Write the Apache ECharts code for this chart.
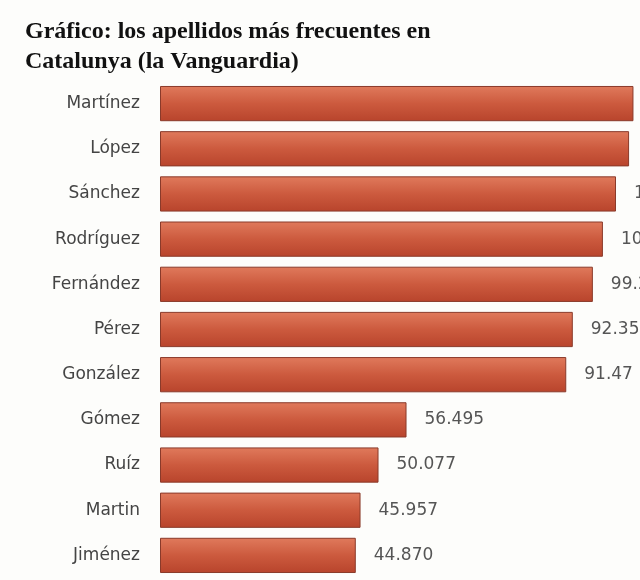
<!DOCTYPE html>
<html><head><meta charset="utf-8">
<script src="https://cdn.jsdelivr.net/npm/echarts@6/dist/echarts.min.js"></script>
<style>html,body{margin:0;padding:0;background:#fff}#c{width:640px;height:580px}</style>
</head><body><div id="c"></div>
<script>
const categories = ["Martínez","López","Sánchez","Rodríguez","Fernández","Pérez","González","Gómez","Ruíz","Martin","Jiménez"];
const values = [108.5, 107.5, 104.5, 101.5, 99.2, 94.6, 93.1, 56.495, 50.077, 45.957, 44.870];
const labels = ["108.5","107.5","104.5","101.5","99.21","92.35","91.47","56.495","50.077","45.957","44.870"];
const chart = echarts.init(document.getElementById('c'));
chart.setOption({
  animation:false,
  backgroundColor:'#fdfdfb',
  title:{text:'Gráfico: los apellidos más frecuentes en\nCatalunya (la Vanguardia)',left:20,top:12,
    textStyle:{fontFamily:'Liberation Serif',fontWeight:'bold',fontSize:24,lineHeight:30,color:'#111'}},
  grid:{left:160,width:495,top:81,bottom:2},
  xAxis:{type:'value',min:0,max:110,show:false},
  yAxis:{type:'category',data:categories,inverse:true,axisLine:{show:false},axisTick:{show:false},
    axisLabel:{fontFamily:'DejaVu Sans',fontSize:17,color:'#444',margin:20}},
  series:[{type:'bar',data:values,barWidth:'78%',
    itemStyle:{color:new echarts.graphic.LinearGradient(0,0,0,1,[{offset:0,color:'#e07a5c'},{offset:0.5,color:'#cc5a3e'},{offset:1,color:'#b8442c'}]),
      borderColor:'#8a3a2a',borderWidth:1},
    label:{show:true,position:'right',distance:18,fontFamily:'DejaVu Sans',fontSize:17,color:'#555',
      formatter:p=>labels[p.dataIndex]}}]
});
</script></body></html>
